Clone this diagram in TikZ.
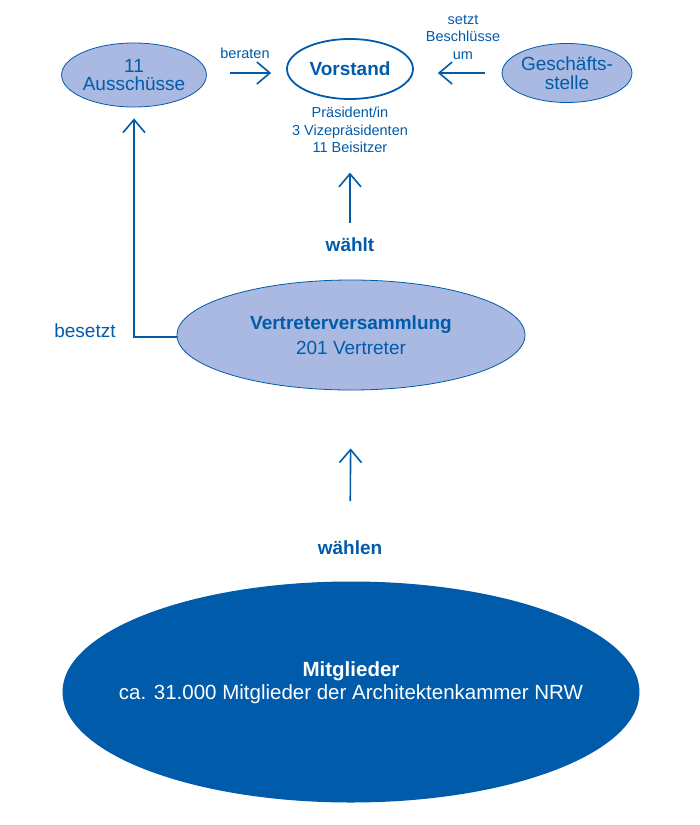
\documentclass[tikz,border=0pt]{standalone}
\usepackage{fontspec}
\setmainfont{Liberation Sans}
\usetikzlibrary{arrows.meta,shapes.geometric}
\definecolor{akblue}{RGB}{0,91,170}
\definecolor{aklight}{RGB}{170,185,225}
\begin{document}
\begin{tikzpicture}[x=1pt, y=-1pt, color=akblue, line width=1.6pt,
  -{Straight Barb[length=13pt, width=22pt, line width=1.6pt]}]
\useasboundingbox (0,0) rectangle (700,825);
\tikzstyle{every node} = [ellipse, inner sep=0pt, align=center, line width=0.8pt, font=\fontsize{19}{18.5}\selectfont]
\node[fill=aklight, draw=akblue, minimum width=125pt, minimum height=64pt] (aus) at (134,75) {11\\Ausschüsse};
\node[fill=white, draw=akblue, line width=1.8pt, minimum width=126pt, minimum height=60pt] (vor) at (350,69) {\bfseries Vorstand};
\node[fill=aklight, draw=akblue, minimum width=127pt, minimum height=59pt] (ges) at (567,73) {Geschäfts-\\stelle};
\node[fill=aklight, draw=akblue, minimum width=348pt, minimum height=110pt, font=\fontsize{19}{25}\selectfont] (vv) at (351,335) {\bfseries Vertreterversammlung\\201 Vertreter};
\node[fill=akblue, minimum width=577pt, minimum height=221pt] (mit) at (351,692) {};
\tikzstyle{every node} = [inner sep=0pt, align=center, font=\fontsize{14.5}{17.5}\selectfont]
\node[text=white, font=\fontsize{20.5}{23}\selectfont] (mittext) at ([yshift=9pt]mit.center) {\bfseries Mitglieder\\ca. 31.000 Mitglieder der Architektenkammer NRW};
\node (info) at (350,130) {Präsident/in\\3 Vizepräsidenten\\11 Beisitzer};
\node (beraten) at (245,53) {beraten};
\node (setzt) at (463,37) {setzt\\Beschlüsse\\um};
\node[font=\fontsize{19}{19}\bfseries] (waehlt) at (350,245) {wählt};
\node[font=\fontsize{19}{19}\bfseries] (waehlen) at (350,548) {wählen};
\node[font=\fontsize{19}{19}\selectfont] (besetzt) at (85,331) {besetzt};
\draw[shorten <=23pt, shorten >=15pt] (aus.east |- 0,73) -- (vor.west |- 0,73);
\draw[shorten <=17pt, shorten >=24pt] (ges.west |- 0,73) -- (vor.east |- 0,73);
\draw[shorten <=14pt, shorten >=19pt] (waehlt.north) -- (info.south);
\draw[shorten <=39pt, shorten >=58pt] (waehlen.north) -- (vv.south);
\draw[-, line width=1.6pt] (vv.west |- 0,337) -| (aus.south |- 0,230);
\draw[shorten >=11pt] (aus.south |- 0,230) -- (aus.south);
\end{tikzpicture}
\end{document}
